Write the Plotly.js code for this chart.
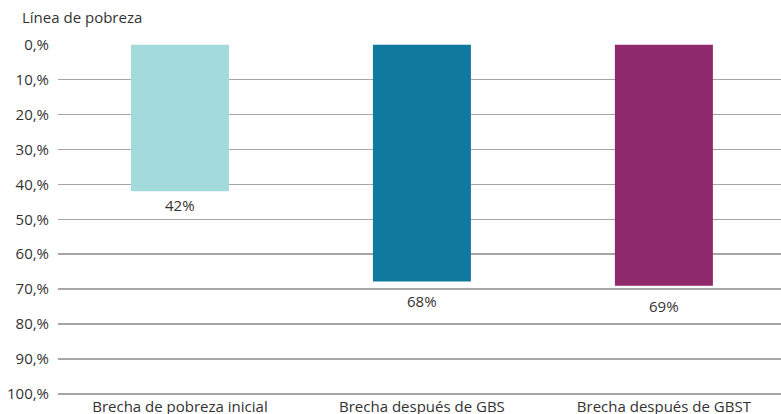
<!DOCTYPE html>
<html>
<head>
<meta charset="utf-8">
<script src="https://cdn.plot.ly/plotly-3.0.1.min.js"></script>
<style>html,body{margin:0;padding:0;overflow:hidden;background:#fff;}</style>
</head>
<body>
<div id="chart" style="width:781px;height:414px;"></div>
<script>
var categories = ["Brecha de pobreza inicial", "Brecha después de GBS", "Brecha después de GBST"];
var values = [42, 67.8, 69];
var valueLabels = ["42%", "68%", "69%"];
var barColors = ["#a3dadb", "#10799e", "#8e2a6b"];
var tickVals = [0, 10, 20, 30, 40, 50, 60, 70, 80, 90, 100];
var tickLabels = ["0,%", "10,%", "20,%", "30,%", "40,%", "50,%", "60,%", "70,%", "80,%", "90,%", "100,%"];
var labelShifts = [-2, -8, -8];

var font = "'Open Sans', 'Noto Sans', sans-serif";

var trace = {
  type: "bar",
  x: [0, 1, 2],
  y: values,
  width: 0.405,
  marker: {color: barColors},
  hoverinfo: "none"
};

var annotations = values.map(function (v, i) {
  return {
    x: i, y: v, xref: "x", yref: "y",
    text: valueLabels[i], showarrow: false,
    yanchor: "top", yshift: labelShifts[i],
    font: {family: font, size: 15, color: "#333333"}
  };
});

var layout = {
  width: 781, height: 414,
  margin: {l: 58, r: 0, t: 44, b: 18, pad: 0},
  paper_bgcolor: "#ffffff",
  plot_bgcolor: "#ffffff",
  showlegend: false,
  title: {
    text: "Línea de pobreza",
    xref: "container", yref: "container",
    x: 22 / 781, xanchor: "left",
    y: 1 - 18 / 414, yanchor: "middle",
    font: {family: font, size: 15, color: "#333333"}
  },
  xaxis: {
    range: [-0.504, 2.484],
    tickmode: "array",
    tickvals: [0, 1, 2],
    ticktext: categories,
    showgrid: false,
    zeroline: false,
    showline: false,
    ticks: "",
    ticklabelstandoff: 0,
    tickfont: {family: font, size: 15, color: "#333333"},
    fixedrange: true
  },
  yaxis: {
    range: [100.6, -0.2],
    tickmode: "array",
    tickvals: tickVals,
    ticktext: tickLabels,
    showgrid: true,
    gridcolor: "#a6a6a6",
    gridwidth: 1.5,
    zeroline: false,
    showline: false,
    ticks: "",
    ticklabelstandoff: 8,
    tickfont: {family: font, size: 15, color: "#333333"},
    fixedrange: true
  },
  annotations: annotations
};

Plotly.newPlot("chart", [trace], layout, {displayModeBar: false, staticPlot: true});
</script>
</body>
</html>
